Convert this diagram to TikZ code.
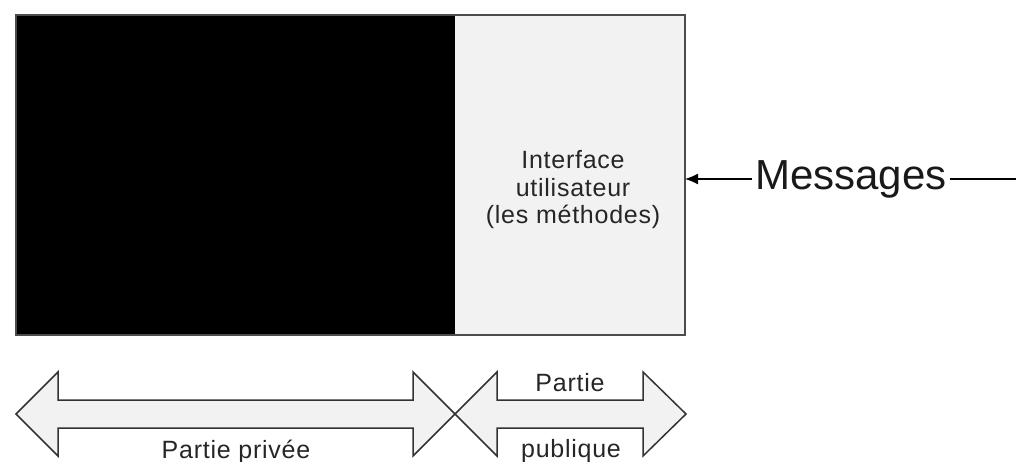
\documentclass[tikz,border=0pt]{standalone}
\usepackage{fontspec}
\setmainfont{Liberation Sans}
\newfontfamily\lblfont[LetterSpace=3]{Liberation Sans}
\usetikzlibrary{arrows.meta}
\definecolor{panel}{HTML}{F2F2F2}
\tikzset{
  lbl/.style={font=\lblfont\fontsize{25}{27.5}\selectfont, align=center, text=black!85, inner sep=0pt},
  dblarrow/.style={draw=black!80, line width=1.5pt, fill=panel, line join=miter},
  boxpart/.style={inner sep=0pt, outer sep=0pt, anchor=north west, minimum height=320pt},
}
\begin{document}
\begin{tikzpicture}[x=1pt,y=-1pt]
\useasboundingbox (0,0) rectangle (1016,462);
% main box
\node[boxpart, fill=black, minimum width=439pt] (priv) at (16,15) {};
\node[boxpart, fill=panel, minimum width=230pt] (iface) at (455,15) {};
\draw[draw=black!70, line width=1.5pt] (priv.north west) rectangle (iface.south east);
\node[lbl] (ifacetxt) at (573,190) {Interface\\utilisateur\\(les méthodes)};
% messages
\node[font=\fontsize{42}{46}\selectfont, anchor=base, inner sep=3pt, text=black!90] (msg) at (851,190) {Messages};
\coordinate (mE) at ([yshift=11pt]msg.base east);
\coordinate (mW) at ([yshift=11pt]msg.base west);
\coordinate (far) at (1016,179);
\draw[line width=1.2pt] (far) -- (mE);
\draw[line width=1.2pt, -{Latex[length=13pt,width=11pt]}] (mW) -- (iface.east |- mW);
% double arrows
\draw[dblarrow] (16,414) -- (58,372) -- (58,400) -- (413,400) -- (413,372) -- (455,414)
  -- (413,456) -- (413,428) -- (58,428) -- (58,456) -- cycle;
\draw[dblarrow] (455,414) -- (497,372) -- (497,400) -- (643,400) -- (643,372) -- (686,414)
  -- (643,456) -- (643,428) -- (497,428) -- (497,456) -- cycle;
\node[lbl, anchor=base] (privlbl) at (236,458) {Partie privée};
\node[lbl, anchor=base] (publbl1) at (570,391) {Partie};
\node[lbl, anchor=base] (publbl2) at (571,457) {publique};
\end{tikzpicture}
\end{document}
